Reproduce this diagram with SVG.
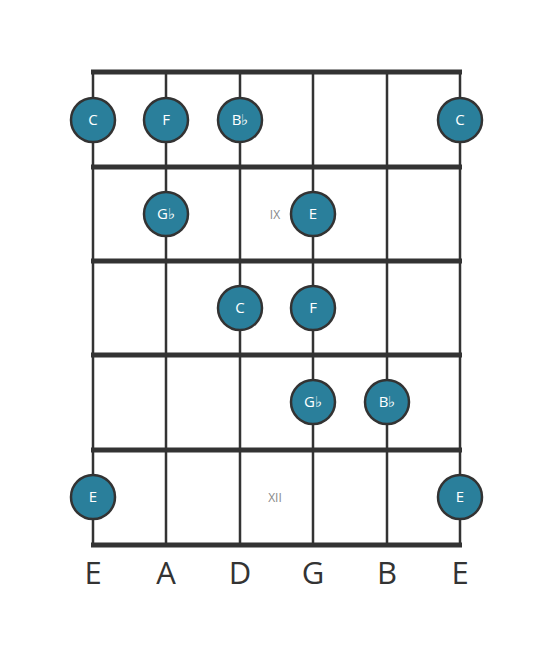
<svg xmlns="http://www.w3.org/2000/svg" width="553" height="656" viewBox="0 0 553 656">
<style>
.fret{stroke:#333;stroke-width:5;fill:none}
.str{stroke:#333;stroke-width:2.5;fill:none}
.dot{fill:#2a7f9b;stroke:#333;stroke-width:2.5}
.nt{font-family:"Open Sans","Liberation Sans",sans-serif;font-size:15px;fill:#fff;text-anchor:middle}
.mk{font-family:"Open Sans","Liberation Sans",sans-serif;font-size:12px;fill:#888;text-anchor:middle}
.sn{font-family:"Open Sans","Liberation Sans",sans-serif;font-size:31px;fill:#333;text-anchor:middle}
</style>
<rect width="553" height="656" fill="#fff"/>
<g id="connectors">
<line class="str" x1="93" y1="72" x2="93" y2="545"/>
<line class="str" x1="166" y1="72" x2="166" y2="545"/>
<line class="str" x1="240" y1="72" x2="240" y2="545"/>
<line class="str" x1="313" y1="72" x2="313" y2="545"/>
<line class="str" x1="387" y1="72" x2="387" y2="545"/>
<line class="str" x1="460" y1="72" x2="460" y2="545"/>
<line class="fret" x1="91" y1="72" x2="462" y2="72"/>
<line class="fret" x1="91" y1="167" x2="462" y2="167"/>
<line class="fret" x1="91" y1="261" x2="462" y2="261"/>
<line class="fret" x1="91" y1="355" x2="462" y2="355"/>
<line class="fret" x1="91" y1="450" x2="462" y2="450"/>
<line class="fret" x1="91" y1="545" x2="462" y2="545"/>
</g>
<g id="markers">
<text class="mk" x="275" y="219">IX</text>
<text class="mk" x="275" y="502">XII</text>
</g>
<g id="n1"><circle class="dot" cx="93" cy="120" r="22"/><text class="nt" x="93" y="125">C</text></g>
<g id="n2"><circle class="dot" cx="166" cy="120" r="22"/><text class="nt" x="166" y="125">F</text></g>
<g id="n3"><circle class="dot" cx="240" cy="120" r="22"/><text class="nt" x="240" y="125">B♭</text></g>
<g id="n4"><circle class="dot" cx="460" cy="120" r="22"/><text class="nt" x="460" y="125">C</text></g>
<g id="n5"><circle class="dot" cx="166" cy="214" r="22"/><text class="nt" x="166" y="219">G♭</text></g>
<g id="n6"><circle class="dot" cx="313" cy="214" r="22"/><text class="nt" x="313" y="219">E</text></g>
<g id="n7"><circle class="dot" cx="240" cy="308" r="22"/><text class="nt" x="240" y="313">C</text></g>
<g id="n8"><circle class="dot" cx="313" cy="308" r="22"/><text class="nt" x="313" y="313">F</text></g>
<g id="n9"><circle class="dot" cx="313" cy="402" r="22"/><text class="nt" x="313" y="407">G♭</text></g>
<g id="n10"><circle class="dot" cx="387" cy="402" r="22"/><text class="nt" x="387" y="407">B♭</text></g>
<g id="n11"><circle class="dot" cx="93" cy="497" r="22"/><text class="nt" x="93" y="502">E</text></g>
<g id="n12"><circle class="dot" cx="460" cy="497" r="22"/><text class="nt" x="460" y="502">E</text></g>
<g id="strings">
<text class="sn" x="93" y="584">E</text>
<text class="sn" x="166" y="584">A</text>
<text class="sn" x="240" y="584">D</text>
<text class="sn" x="313" y="584">G</text>
<text class="sn" x="387" y="584">B</text>
<text class="sn" x="460" y="584">E</text>
</g>
</svg>
